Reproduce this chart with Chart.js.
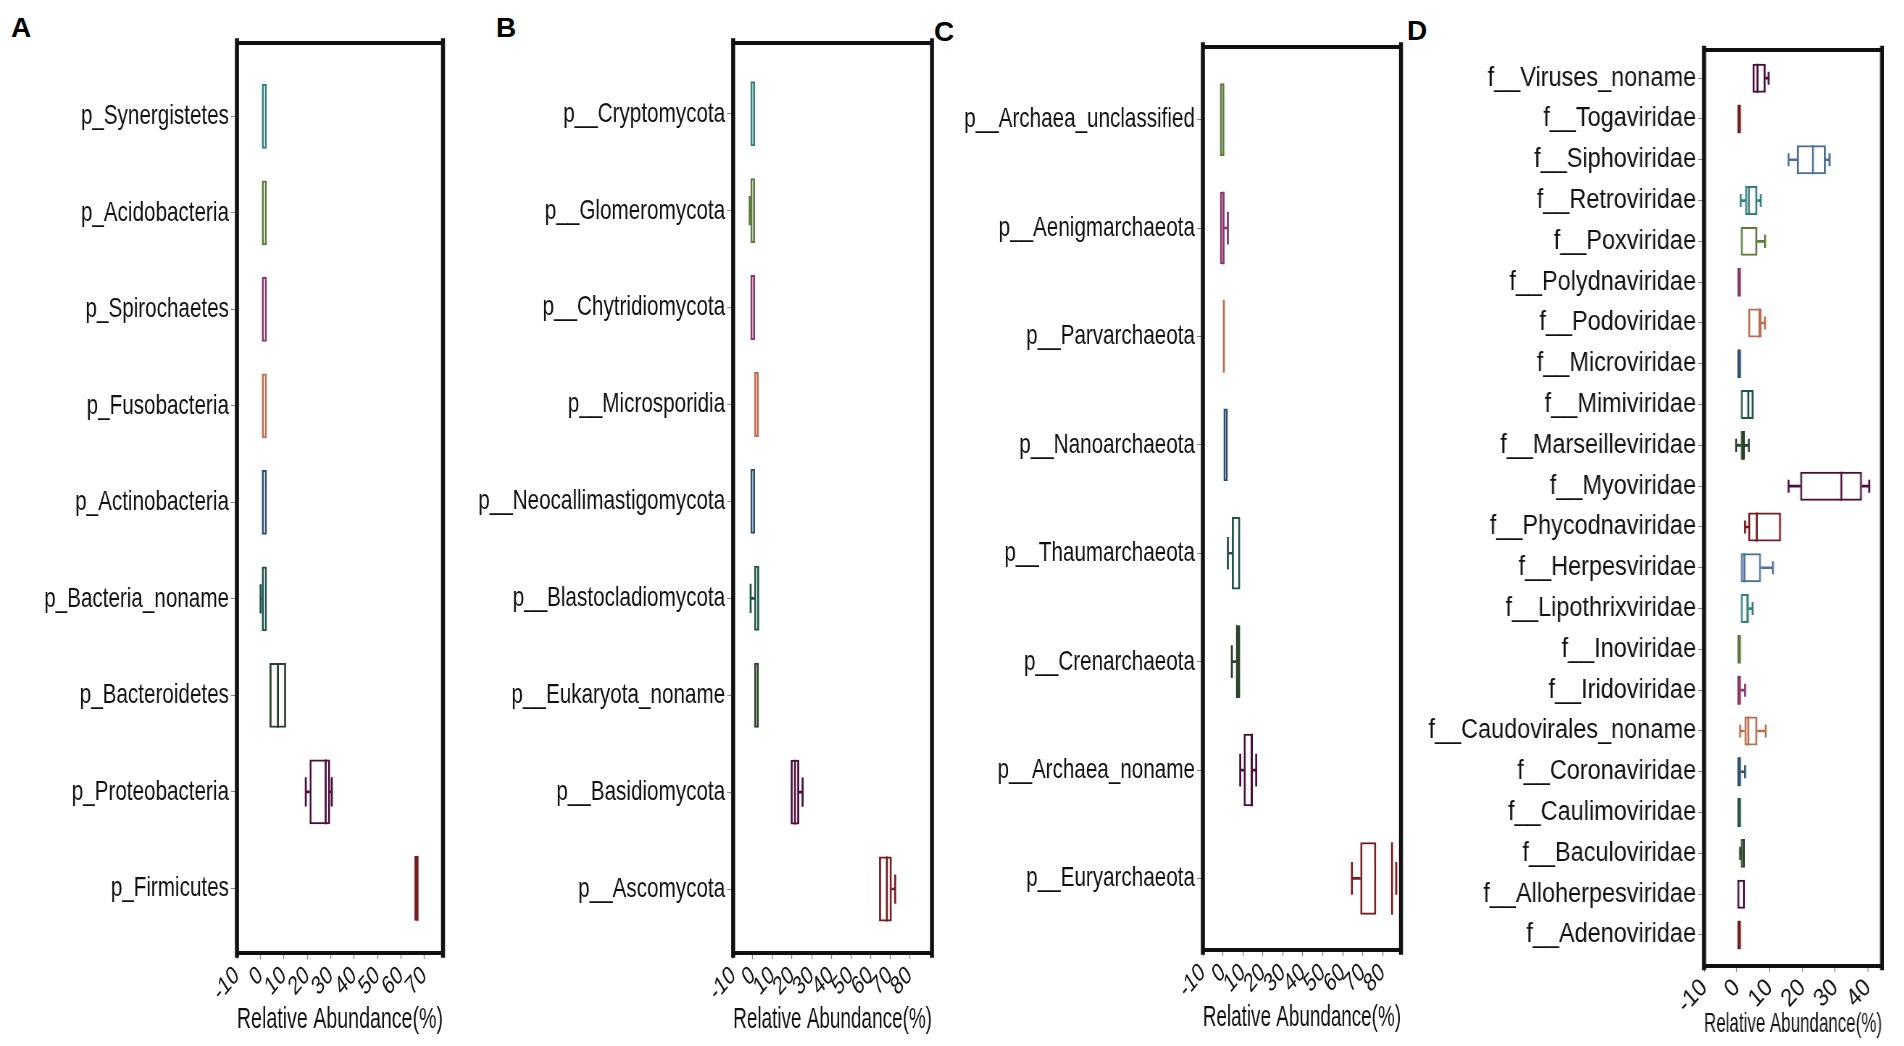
<!DOCTYPE html>
<html lang="en">
<head>
<meta charset="UTF-8">
<title>Relative abundance boxplots</title>
<script src="https://cdn.jsdelivr.net/npm/chart.js"></script>
<style>
  html, body { margin: 0; padding: 0; background: #fff; }
  body { width: 1904px; height: 1046px; position: relative; overflow: hidden; }
  .panel { position: absolute; top: 0; height: 1046px; transform-origin: 0 0; }
  .tag { position: absolute; font: bold 28px 'Liberation Sans', Arial, sans-serif; color: #000; }
</style>
</head>
<body>
<div class="tag" style="left:11px;top:12px">A</div>
<div class="tag" style="left:496px;top:12px">B</div>
<div class="tag" style="left:934px;top:16px">C</div>
<div class="tag" style="left:1407px;top:15px">D</div>

<div class="panel" id="wrapA"><canvas id="chartA"></canvas></div>
<div class="panel" id="wrapB"><canvas id="chartB"></canvas></div>
<div class="panel" id="wrapC"><canvas id="chartC"></canvas></div>
<div class="panel" id="wrapD"><canvas id="chartD"></canvas></div>

<script>
// ---- A: bacteria phyla ----
const aLabels = ['p_Synergistetes', 'p_Acidobacteria', 'p_Spirochaetes', 'p_Fusobacteria', 'p_Actinobacteria',
                 'p_Bacteria_noname', 'p_Bacteroidetes', 'p_Proteobacteria', 'p_Firmicutes'];
const aQ1  = [0.6, 0.6, 0.6, 0.6, 0.6, 0.6, 3.9, 21.0, 65.8];
const aQ3  = [2.8, 2.8, 2.8, 2.8, 2.8, 2.8, 11.0, 29.8, 67.4];
const aMed = [null, null, null, null, null, null, 7.5, 27.9, 67.1];
const aLo  = [null, null, null, null, null, 0.1, null, 19.4, null];
const aHi  = [null, null, null, null, null, null, null, 30.5, null];
const aTicks = [-10, 0, 10, 20, 30, 40, 50, 60, 70];

// ---- B: fungi phyla ----
const bLabels = ['p__Cryptomycota', 'p__Glomeromycota', 'p__Chytridiomycota', 'p__Microsporidia',
                 'p__Neocallimastigomycota', 'p__Blastocladiomycota', 'p__Eukaryota_noname',
                 'p__Basidiomycota', 'p__Ascomycota'];
const bQ1  = [-1.2, -1.2, -1.2, 0.7, -1.2, 0.7, 0.7, 19.3, 64.4];
const bQ3  = [1.2, 1.2, 1.2, 3.1, 1.2, 3.3, 3.1, 23.7, 70.9];
const bMed = [null, null, null, null, null, null, null, 21.5, 68.4];
const bLo  = [null, -1.6, null, null, null, -1.1, null, null, null];
const bHi  = [null, null, null, null, null, null, null, 25.4, 72.6];
const bTicks = [-10, 0, 10, 20, 30, 40, 50, 60, 70, 80];

// ---- C: archaea phyla ----
const cLabels = ['p__Archaea_unclassified', 'p__Aenigmarchaeota', 'p__Parvarchaeota', 'p__Nanoarchaeota',
                 'p__Thaumarchaeota', 'p__Crenarchaeota', 'p__Archaea_noname', 'p__Euryarchaeota'];
const cQ1  = [-1.5, -1.5, 0.5, 0.3, 4.5, 6.5, 10.4, 68.8];
const cQ3  = [0.8, 0.8, 0.5, 2.5, 8.7, 8.7, 14.9, 76.8];
const cMed = [null, 0.3, 0.5, null, null, 7.2, 14.5, 84.7];
const cLo  = [null, null, null, null, 2.5, 4.5, 8.7, 64.6];
const cHi  = [null, 2.5, null, null, null, null, 16.7, null];
const cOut = [null, null, null, null, null, null, null, 86.8];
const cTicks = [-10, 0, 10, 20, 30, 40, 50, 60, 70, 80];

// ---- D: virus families ----
const dLabels = ['f__Viruses_noname', 'f__Togaviridae', 'f__Siphoviridae', 'f__Retroviridae', 'f__Poxviridae',
                 'f__Polydnaviridae', 'f__Podoviridae', 'f__Microviridae', 'f__Mimiviridae', 'f__Marseilleviridae',
                 'f__Myoviridae', 'f__Phycodnaviridae', 'f__Herpesviridae', 'f__Lipothrixviridae', 'f__Inoviridae',
                 'f__Iridoviridae', 'f__Caudovirales_noname', 'f__Coronaviridae', 'f__Caulimoviridae',
                 'f__Baculoviridae', 'f__Alloherpesviridae', 'f__Adenoviridae'];
const dQ1  = [4.8, 0.0, 18.3, 2.5, 1.2, 0.0, 3.5, 0.0, 1.2, 1.2, 19.3, 3.5, 1.2, 1.2, 0.0, 0.0, 2.3, 0.0, 0.0, 1.2, 0.0, 0.0];
const dQ3  = [8.8, 1.3, 27.2, 6.3, 6.3, 1.3, 7.6, 1.3, 5.1, 2.5, 38.2, 13.5, 7.4, 3.7, 1.3, 1.3, 6.3, 1.3, 1.3, 2.5, 2.5, 1.3];
const dMed = [6.3, null, 23.2, 3.7, null, null, 6.9, null, 3.5, 1.8, 31.9, 6.1, 2.3, 3.2, null, 0.6, 3.5, 0.7, null, null, null, null];
const dLo  = [null, null, 15.8, 1.2, null, null, null, null, null, -0.2, 15.8, 2.5, null, null, null, null, 1.0, null, null, 1.0, null, null];
const dHi  = [9.7, null, 28.3, 7.3, 8.6, null, 8.6, null, null, 3.7, 40.4, null, 11.0, 4.8, null, 2.5, 8.8, 2.5, null, null, null, null];
const dTicks = [-10, 0, 10, 20, 30, 40];

// colours (style, not data)
const TEAL = '#33817e', OLIVE = '#5a7a3e', PINK = '#87386a', ORANGE = '#bb6e50', SLATE = '#2e5070',
      DTEAL = '#1d5446', DGREEN = '#294229', DPURPLE = '#4b0e3c', DRED = '#761c20', BLUE = '#4a6f9a';
const aColors = [TEAL, OLIVE, PINK, ORANGE, SLATE, DTEAL, DGREEN, DPURPLE, DRED];
const cColors = [OLIVE, PINK, ORANGE, SLATE, DTEAL, DGREEN, DPURPLE, DRED];
const dCycle = [DPURPLE, DRED, BLUE, TEAL, OLIVE, PINK, ORANGE, SLATE, DTEAL, DGREEN];
const dColors = dLabels.map((_, i) => dCycle[i % dCycle.length]);

Chart.defaults.font.family = "'Liberation Sans', Arial, sans-serif";

// the original figure is squeezed sideways: each chart is drawn S times wider
// and the wrapper is scaled back, so the text comes out tall and narrow
const framePlugin = {
  id: 'frame',
  afterDatasetsDraw(chart, args, opts) {
    const { ctx, chartArea: a } = chart;
    const S = opts.stretch || 1;
    ctx.save();
    ctx.strokeStyle = '#111';
    ctx.lineCap = 'square';
    ctx.lineWidth = 4;
    ctx.beginPath();
    ctx.moveTo(a.left, a.top); ctx.lineTo(a.right, a.top);
    ctx.moveTo(a.left, a.bottom); ctx.lineTo(a.right, a.bottom);
    ctx.stroke();
    ctx.lineWidth = 4 * S;
    ctx.beginPath();
    ctx.moveTo(a.left, a.top - 2); ctx.lineTo(a.left, a.bottom + 2);
    ctx.moveTo(a.right, a.top - 2); ctx.lineTo(a.right, a.bottom + 2);
    ctx.stroke();
    ctx.restore();
  }
};

function bandPx(chart) {
  const y = chart.scales.y;
  return Math.abs(y.getPixelForValue(1) - y.getPixelForValue(0));
}

function drawPanel(id, wrapId, p, L) {
  const S = L.stretch;
  const wrap = document.getElementById(wrapId);
  const canvas = document.getElementById(id);
  const w = Math.round(L.width * S);
  wrap.style.left = L.left + 'px';
  wrap.style.width = w + 'px';
  wrap.style.transform = 'scaleX(' + (L.width / w) + ')';
  canvas.width = w;
  canvas.height = 1046;

  const pick = arr => arr.map((v, i) => v == null ? null : { x: v, y: i, c: p.colors[i] }).filter(Boolean);
  const vLine = (arr, frac) => ({
    type: 'scatter',
    data: pick(arr),
    pointStyle: 'line',
    pointRotation: 90,
    pointRadius: ctx => bandPx(ctx.chart) * frac / 2,
    pointBorderColor: ctx => ctx.raw ? ctx.raw.c : '#000',
    pointBorderWidth: 2 * S
  });
  const whisker = (arr, lowSide) => ({
    type: 'bar',
    indexAxis: 'y',
    grouped: false,
    barThickness: 2,
    borderWidth: 0,
    data: arr.map((v, i) => v == null ? null
      : { x: lowSide ? [v, p.q1[i]] : [p.q3[i], v], y: i, c: p.colors[i] }).filter(Boolean),
    backgroundColor: ctx => ctx.raw ? ctx.raw.c : '#000'
  });

  const datasets = [
    {
      type: 'bar',
      indexAxis: 'y',
      grouped: false,
      data: p.q1.map((q, i) => ({ x: [q, p.q3[i]], y: i })),
      backgroundColor: 'rgba(0,0,0,0)',
      borderColor: p.colors,
      borderWidth: { top: 2, bottom: 2, left: 2 * S, right: 2 * S },
      borderSkipped: false,
      categoryPercentage: 1,
      barPercentage: L.boxFrac
    },
    whisker(p.lo, true),
    whisker(p.hi, false),
    vLine(p.med, L.boxFrac),
    vLine(p.lo, L.boxFrac * 0.45),
    vLine(p.hi, L.boxFrac * 0.45)
  ];
  if (p.out) datasets.push(vLine(p.out, L.boxFrac * 0.45));

  new Chart(canvas, {
    type: 'bar',
    data: { datasets },
    plugins: [framePlugin],
    options: {
      responsive: false,
      animation: false,
      events: [],
      indexAxis: 'y',
      layout: { padding: { top: L.top, right: L.right * S, left: 0, bottom: 0 } },
      plugins: { legend: { display: false }, tooltip: { enabled: false }, frame: { stretch: S } },
      scales: {
        x: {
          type: 'linear',
          min: -10,
          max: p.xMax,
          offset: false,
          bounds: 'data',
          afterBuildTicks: s => { s.ticks = p.ticks.map(v => ({ value: v })); },
          afterFit: s => { s.height = L.xH; s.paddingLeft = 0; s.paddingRight = 0; },
          ticks: {
            autoSkip: false, minRotation: L.rot, maxRotation: L.rot, padding: 1,
            color: '#111', font: { size: L.tickSize },
            callback: v => String(v)
          },
          grid: { drawOnChartArea: false, offset: false, tickLength: 6, tickWidth: S, color: '#888' },
          border: { display: false },
          title: {
            display: true, text: 'Relative Abundance(%)', color: '#111',
            font: { size: L.titleSize }, padding: { top: 0, bottom: L.titlePad }
          }
        },
        y: {
          type: 'linear',
          reverse: true,
          offset: false,
          bounds: 'data',
          min: -L.padTop,
          max: p.labels.length - 1 + L.padBottom,
          afterBuildTicks: s => { s.ticks = p.labels.map((_, i) => ({ value: i })); },
          afterFit: s => { s.width = L.yW * S; },
          ticks: {
            autoSkip: false, padding: 2 * S, color: '#111', font: { size: L.labelSize },
            callback: v => p.labels[v]
          },
          grid: { drawOnChartArea: false, offset: false, tickLength: 6 * S, color: '#888' },
          border: { display: false }
        }
      }
    }
  });
}

drawPanel('chartA', 'wrapA',
  { labels: aLabels, q1: aQ1, q3: aQ3, med: aMed, lo: aLo, hi: aHi, ticks: aTicks, xMax: 78, colors: aColors },
  { left: 0, width: 460, stretch: 1.38, top: 43, right: 17, yW: 237, xH: 93, titlePad: 9,
    padTop: 0.76, padBottom: 0.67, boxFrac: 0.67, rot: 41, labelSize: 28.5, tickSize: 26, titleSize: 29 });

drawPanel('chartB', 'wrapB',
  { labels: bLabels, q1: bQ1, q3: bQ3, med: bMed, lo: bLo, hi: bHi, ticks: bTicks, xMax: 91.4, colors: aColors },
  { left: 465, width: 480, stretch: 1.38, top: 43, right: 13, yW: 268, xH: 93, titlePad: 9,
    padTop: 0.73, padBottom: 0.66, boxFrac: 0.67, rot: 41, labelSize: 28.5, tickSize: 26, titleSize: 29 });

drawPanel('chartC', 'wrapC',
  { labels: cLabels, q1: cQ1, q3: cQ3, med: cMed, lo: cLo, hi: cHi, out: cOut, ticks: cTicks, xMax: 89.2, colors: cColors },
  { left: 945, width: 465, stretch: 1.38, top: 47, right: 9, yW: 258, xH: 96, titlePad: 11,
    padTop: 0.67, padBottom: 0.66, boxFrac: 0.67, rot: 41, labelSize: 28.5, tickSize: 26, titleSize: 29 });

drawPanel('chartD', 'wrapD',
  { labels: dLabels, q1: dQ1, q3: dQ3, med: dMed, lo: dLo, hi: dHi, ticks: dTicks, xMax: 44.3, colors: dColors },
  { left: 1410, width: 494, stretch: 1.15, top: 50, right: 22, yW: 294, xH: 80, titlePad: 5,
    padTop: 0.69, padBottom: 0.76, boxFrac: 0.71, rot: 44, labelSize: 27, tickSize: 25, titleSize: 28 });
</script>
</body>
</html>
